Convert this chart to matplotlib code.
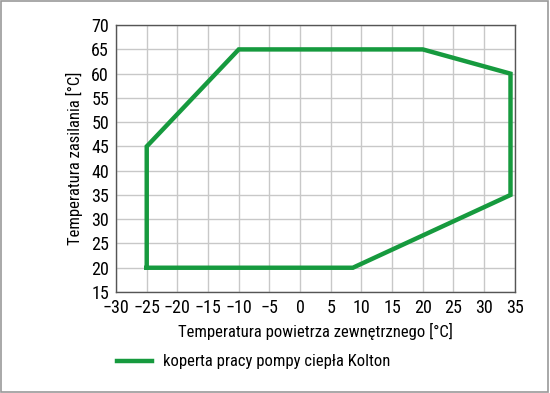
import matplotlib.pyplot as plt
from matplotlib import font_manager as fm
from matplotlib.patches import Rectangle

names = {f.name for f in fm.fontManager.ttflist}
cond = [n for n in ['Roboto Condensed', 'Liberation Sans Narrow', 'DejaVu Sans Condensed'] if n in names]
plt.rcParams['font.family'] = cond + ['DejaVu Sans']
plt.rcParams['font.stretch'] = 'condensed'

# envelope corners (outdoor temp, supply temp)
t_out = [-25, -25, -10, 20, 34.3, 34.3, 8.6, -25]
t_sup = [20, 45, 65, 65, 60, 35, 20, 20]

x_ticks = list(range(-30, 36, 5))
y_ticks = list(range(15, 71, 5))

fig = plt.figure(figsize=(5.5, 3.93), dpi=100)
ax = fig.add_axes([0.211, 0.257, 0.725, 0.679])

ax.plot(t_out, t_sup, color='#169a3e', lw=3.2, solid_joinstyle='miter',
        label='koperta pracy pompy ciepła Kolton')

ax.set_xlim(-30, 35)
ax.set_ylim(15, 70)
ax.set_xticks(x_ticks)
ax.set_yticks(y_ticks)
ax.grid(True, color='#c8c8c8', lw=1)
ax.set_axisbelow(True)
ax.tick_params(length=0, labelsize=13, pad=5)
for s in ax.spines.values():
    s.set_color('#555555')
    s.set_linewidth(1)

ax.set_xlabel('Temperatura powietrza zewnętrznego [°C]', fontsize=12, labelpad=4)
ax.set_ylabel('Temperatura zasilania [°C]', fontsize=12, labelpad=6)

fig.legend(loc='center left', bbox_to_anchor=(0.185, 0.079), frameon=False,
           fontsize=12, handlelength=2.1, handletextpad=0.7)

fig.patches.append(Rectangle((0.002, 0.003), 0.995, 0.994, transform=fig.transFigure,
                             fill=False, edgecolor='#999999', lw=1.2))

fig.savefig('out.png', dpi=100)
